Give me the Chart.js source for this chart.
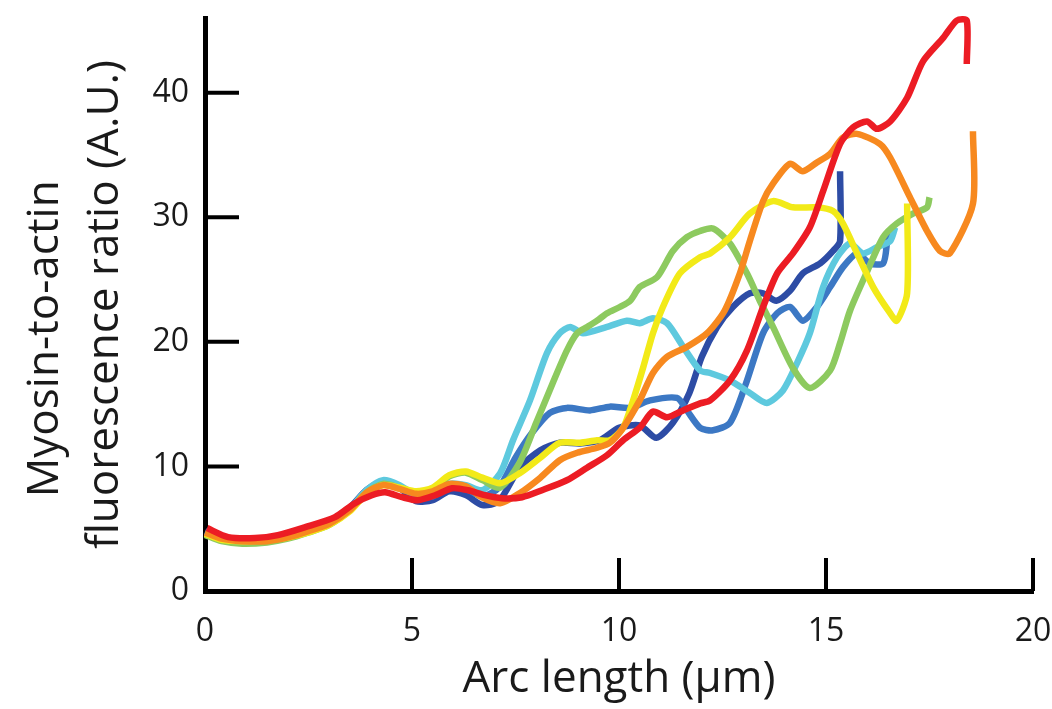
<!DOCTYPE html>
<html>
<head>
<meta charset="utf-8">
<script src="https://cdn.jsdelivr.net/npm/chart.js@4.4.1/dist/chart.umd.min.js"></script>
<style>
  html, body { margin: 0; padding: 0; background: #fff; }
  #wrap { width: 1052px; height: 709px; position: relative; }
</style>
</head>
<body>
<div id="wrap"><canvas id="chart"></canvas></div>
<script>
// tick labels
const xTicks = [0, 5, 10, 15, 20];
const yTicks = [0, 10, 20, 30, 40];

// series (x in um, y in A.U.)
const redX = [0.05, 0.56, 1.21, 1.76, 2.42, 3.14, 3.62, 4.03, 4.35, 4.76, 5.14, 5.56, 5.97, 6.35, 6.76, 7.17, 7.66, 8.14, 8.74, 9.23, 9.71, 10.1, 10.51, 10.82, 11.16, 11.55, 11.96, 12.2, 12.68, 13.09, 13.48, 13.82, 14.2, 14.61, 14.93, 15.34, 15.65, 15.99, 16.23, 16.55, 16.96, 17.34, 17.83, 18.16, 18.4, 18.4];
const redY = [5.05, 4.33, 4.25, 4.49, 5.13, 5.93, 7.05, 7.69, 7.93, 7.53, 7.29, 7.69, 8.25, 8.09, 7.69, 7.45, 7.53, 8.09, 8.89, 9.9, 10.9, 12.1, 13.14, 14.4, 13.94, 14.5, 15.06, 15.3, 16.9, 19.3, 22.8, 25.5, 27.1, 29.2, 32.1, 35.9, 37.2, 37.7, 37.1, 37.7, 39.6, 42.5, 44.4, 45.8, 45.8, 42.3];

const orangeX = [0, 0.4, 0.9, 1.5, 2.0, 2.5, 3.0, 3.5, 3.9, 4.3, 4.7, 5.1, 5.5, 5.9, 6.3, 6.7, 7.13, 7.6, 8.1, 8.57, 8.99, 9.47, 9.78, 10.1, 10.5, 10.82, 11.16, 11.64, 12.13, 12.55, 12.92, 13.16, 13.48, 13.72, 14.13, 14.44, 14.78, 15.1, 15.41, 15.75, 16.3, 16.55, 17.03, 17.44, 17.75, 17.99, 18.55, 18.55];
const orangeY = [4.7, 4.2, 4.0, 4.0, 4.3, 4.8, 5.4, 6.5, 7.9, 8.5, 8.2, 7.8, 8.0, 8.6, 8.4, 7.5, 7.05, 7.85, 9.1, 10.5, 11.1, 11.5, 11.9, 13.1, 15.3, 17.5, 18.8, 19.6, 20.7, 22.5, 25.5, 28.1, 31.3, 32.7, 34.3, 33.7, 34.4, 35.1, 36.4, 36.7, 35.9, 34.8, 31.6, 28.9, 27.3, 27.1, 31.1, 36.9];

const yellowX = [0, 0.4, 0.9, 1.5, 2.0, 2.5, 3.0, 3.5, 3.9, 4.3, 4.7, 5.1, 5.5, 5.9, 6.3, 6.7, 7.13, 7.6, 8.1, 8.57, 9.06, 9.47, 9.78, 10.1, 10.34, 10.58, 10.82, 11.06, 11.47, 11.96, 12.2, 12.68, 13.16, 13.72, 14.2, 14.78, 15.17, 15.41, 15.75, 16.14, 16.55, 16.71, 16.96, 16.96];
const yellowY = [4.6, 4.1, 4.0, 4.1, 4.3, 4.7, 5.3, 6.4, 7.8, 8.5, 8.3, 8.0, 8.3, 9.3, 9.6, 9.1, 8.65, 9.45, 10.7, 11.9, 11.9, 12.1, 12.1, 13.1, 15.3, 17.9, 20.7, 22.8, 25.5, 26.8, 27.1, 28.4, 30.3, 31.3, 30.8, 30.8, 30.5, 29.5, 27.1, 24.4, 22.3, 21.7, 23.9, 31.1];

const greenX = [0, 0.4, 0.9, 1.5, 2.0, 2.5, 3.0, 3.5, 3.9, 4.3, 4.7, 5.1, 5.5, 5.9, 6.3, 6.7, 7.13, 7.6, 8.0, 8.4, 8.74, 8.99, 9.23, 9.47, 9.71, 10.02, 10.27, 10.5, 10.92, 11.3, 11.64, 11.96, 12.27, 12.68, 13.09, 13.4, 13.72, 14.2, 14.61, 15.1, 15.34, 15.58, 16.0, 16.38, 16.71, 17.1, 17.44, 17.5];
const greenY = [4.5, 4.0, 3.8, 3.9, 4.2, 4.7, 5.3, 6.5, 7.9, 8.6, 8.3, 7.9, 8.2, 9.2, 9.5, 8.9, 8.3, 10.3, 13.5, 16.7, 19.3, 20.7, 21.2, 21.7, 22.3, 22.8, 23.3, 24.4, 25.2, 27.3, 28.4, 28.9, 29.1, 27.9, 25.5, 23.3, 21.2, 17.9, 16.3, 17.7, 19.9, 22.5, 25.7, 28.4, 29.5, 30.3, 30.8, 31.6];

const cyanX = [0, 0.4, 0.9, 1.5, 2.0, 2.5, 3.0, 3.5, 3.9, 4.3, 4.7, 5.1, 5.5, 5.9, 6.3, 6.7, 7.13, 7.44, 7.85, 8.26, 8.57, 8.82, 9.13, 9.71, 10.19, 10.5, 10.82, 11.16, 11.55, 11.96, 12.2, 12.68, 13.16, 13.57, 13.96, 14.3, 14.61, 14.93, 15.27, 15.58, 15.89, 16.23, 16.55, 16.67];
const cyanY = [4.6, 4.1, 3.9, 4.0, 4.3, 4.8, 5.4, 6.6, 8.1, 8.9, 8.5, 7.7, 7.8, 8.6, 8.5, 8.1, 9.45, 12.1, 15.3, 19.1, 20.7, 21.2, 20.7, 21.2, 21.7, 21.5, 21.9, 21.5, 19.6, 17.7, 17.5, 16.9, 15.9, 15.1, 16.1, 18.3, 20.7, 24.4, 26.8, 27.9, 27.1, 27.6, 28.1, 29.2];

const blueX = [0, 0.4, 0.9, 1.5, 2.0, 2.5, 3.0, 3.5, 3.9, 4.3, 4.7, 5.1, 5.5, 5.9, 6.3, 6.7, 7.1, 7.5, 7.9, 8.33, 8.74, 9.3, 9.78, 10.27, 10.75, 11.4, 11.64, 11.96, 12.27, 12.68, 13.05, 13.48, 13.82, 14.13, 14.44, 14.78, 15.1, 15.41, 15.75, 16.06, 16.38, 16.47, 16.47];
const blueY = [4.7, 4.2, 4.0, 4.1, 4.4, 4.9, 5.5, 6.6, 8.0, 8.7, 8.4, 7.6, 7.6, 8.4, 8.2, 7.6, 8.3, 10.7, 12.7, 14.3, 14.7, 14.5, 14.8, 14.7, 15.3, 15.5, 14.5, 13.1, 12.9, 13.5, 16.5, 20.7, 22.3, 22.8, 21.7, 22.8, 24.4, 26.0, 27.1, 26.3, 26.3, 27.9, 28.7];

const navyX = [0, 0.4, 0.9, 1.5, 2.0, 2.5, 3.0, 3.5, 3.9, 4.3, 4.7, 5.1, 5.5, 5.9, 6.3, 6.7, 7.1, 7.6, 8.1, 8.57, 9.06, 9.54, 10.0, 10.5, 10.9, 11.3, 11.7, 12.0, 12.37, 12.75, 13.16, 13.48, 13.8, 14.13, 14.44, 14.86, 15.17, 15.34, 15.34];
const navyY = [4.8, 4.3, 4.1, 4.1, 4.5, 5.0, 5.6, 6.7, 8.1, 8.8, 8.3, 7.2, 7.3, 8.0, 7.7, 6.9, 7.2, 9.9, 11.3, 11.9, 11.85, 12.1, 13.1, 13.3, 12.3, 13.5, 15.9, 18.8, 21.2, 22.8, 23.9, 23.9, 23.3, 24.1, 25.5, 26.3, 27.3, 28.1, 33.7];

function pts(xs, ys) {
  return xs.map((x, i) => ({ x, y: ys[i] }));
}

// first dataset is drawn on top
const series = [
  { data: pts(redX, redY), color: '#ec1c24' },
  { data: pts(orangeX, orangeY), color: '#f7891f' },
  { data: pts(yellowX, yellowY), color: '#f2ea18' },
  { data: pts(greenX, greenY), color: '#8dca5f' },
  { data: pts(cyanX, cyanY), color: '#5ec9de' },
  { data: pts(blueX, blueY), color: '#3c78c4' },
  { data: pts(navyX, navyY), color: '#2d4ca5' },
];

const innerTicks = {
  id: 'innerTicks',
  beforeDatasetsDraw(chart) {
    const { ctx, scales: { x, y } } = chart;
    ctx.save();
    ctx.strokeStyle = '#000';
    ctx.lineWidth = 4;
    xTicks.filter(v => v > 0).forEach(v => {
      const px = x.getPixelForValue(v);
      ctx.beginPath();
      ctx.moveTo(px, y.bottom);
      ctx.lineTo(px, y.bottom - 33);
      ctx.stroke();
    });
    yTicks.filter(v => v > 0).forEach(v => {
      const py = y.getPixelForValue(v);
      ctx.beginPath();
      ctx.moveTo(x.left, py);
      ctx.lineTo(x.left + 34, py);
      ctx.stroke();
    });
    ctx.restore();
  }
};

const FONT = "'Open Sans', 'Noto Sans', sans-serif";
// trailing nbsp pushes the first title line down a little, as in the figure
const PAD = '\u00a0'.repeat(6);

new Chart(document.getElementById('chart'), {
  type: 'scatter',
  data: {
    datasets: series.map(s => ({
      data: s.data,
      showLine: true,
      borderColor: s.color,
      backgroundColor: s.color,
      borderWidth: 6.5,
      pointRadius: 0,
      tension: 0.25,
      borderJoinStyle: 'round',
      clip: false,
    })),
  },
  options: {
    responsive: true,
    maintainAspectRatio: false,
    animation: false,
    layout: { padding: { top: 18, right: 19, left: 0, bottom: 0 } },
    plugins: { legend: { display: false }, tooltip: { enabled: false } },
    scales: {
      x: {
        type: 'linear',
        min: 0,
        max: 20,
        afterFit: (scale) => {
          scale.height = 118;
          scale.paddingLeft = 0;
          scale.paddingRight = 0;
        },
        afterBuildTicks: (scale) => { scale.ticks = xTicks.map(v => ({ value: v })); },
        grid: { drawOnChartArea: false, drawTicks: false },
        border: { display: true, color: '#000', width: 5 },
        ticks: { color: '#1a1a1a', font: { family: FONT, size: 32 }, padding: 22, maxRotation: 0 },
        title: {
          display: true,
          text: 'Arc length (µm)',
          color: '#1a1a1a',
          font: { family: FONT, size: 44 },
          padding: { top: 0, bottom: 3 },
        },
      },
      y: {
        type: 'linear',
        min: 0,
        max: 46,
        afterFit: (scale) => {
          scale.width = 205;
          scale.paddingTop = 0;
          scale.paddingBottom = 0;
        },
        afterBuildTicks: (scale) => { scale.ticks = yTicks.map(v => ({ value: v })); },
        grid: { drawOnChartArea: false, drawTicks: false },
        border: { display: true, color: '#000', width: 5 },
        ticks: { color: '#1a1a1a', font: { family: FONT, size: 32 }, padding: 16 },
        title: {
          display: true,
          text: ['Myosin-to-actin' + PAD, 'fluorescence ratio (A.U.)'],
          color: '#1a1a1a',
          font: { family: FONT, size: 44, lineHeight: 1.37 },
          padding: { top: 15, bottom: 0 },
        },
      },
    },
  },
  plugins: [innerTicks],
});
</script>
</body>
</html>
